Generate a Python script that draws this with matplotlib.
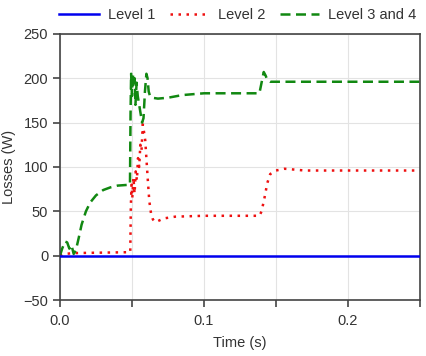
import matplotlib
matplotlib.use("Agg")
import matplotlib.pyplot as plt
import numpy as np

plt.rcParams['font.family'] = ['Liberation Sans', 'DejaVu Sans']

# Level 1 (blue)
t1 = [0.0, 0.25]
v1 = [0.0, 0.0]

# Level 2 (red dotted)
t2 = [0.0, 0.003, 0.010, 0.030, 0.0488, 0.0492, 0.0497, 0.0502, 0.0510, 0.0518, 0.0526,
      0.0534, 0.0542, 0.0550, 0.0558, 0.0566, 0.0575, 0.0583, 0.0592, 0.0600, 0.0610,
      0.0620, 0.0632, 0.0645, 0.0660, 0.0680, 0.0720, 0.0800, 0.1000, 0.1200, 0.1385,
      0.1400, 0.1420, 0.1440, 0.1460, 0.1500, 0.1560, 0.1700, 0.2000, 0.2500]
v2 = [0.0, 2.0, 3.0, 3.5, 4.0, 55.0, 80.0, 65.0, 88.0, 70.0, 95.0,
      85.0, 110.0, 100.0, 125.0, 118.0, 148.0, 140.0, 130.0, 110.0, 85.0,
      62.0, 48.0, 41.0, 38.0, 39.0, 42.0, 44.0, 45.0, 45.0, 45.0,
      50.0, 65.0, 82.0, 92.0, 96.0, 98.0, 96.0, 96.0, 96.0]

# Level 3 and 4 (green dashed)
t3 = [0.0, 0.0015, 0.0035, 0.0050, 0.0065, 0.0080, 0.0095, 0.0110, 0.0130, 0.0150,
      0.0180, 0.0210, 0.0250, 0.0300, 0.0350, 0.0400, 0.0486, 0.0490, 0.0494, 0.0500,
      0.0506, 0.0512, 0.0518, 0.0524, 0.0532, 0.0540, 0.0550, 0.0560, 0.0570, 0.0580,
      0.0590, 0.0600, 0.0608, 0.0616, 0.0625, 0.0640, 0.0680, 0.0750, 0.0850, 0.1000,
      0.1200, 0.1385, 0.1400, 0.1415, 0.1428, 0.1440, 0.1460, 0.1500, 0.2000, 0.2500]
v3 = [0.0, 8.0, 16.0, 15.0, 8.0, 12.0, 2.0, 6.0, 20.0, 35.0,
      50.0, 60.0, 68.0, 74.0, 77.0, 79.0, 80.0, 160.0, 205.0, 180.0,
      205.0, 190.0, 200.0, 170.0, 195.0, 180.0, 170.0, 160.0, 150.0, 155.0,
      185.0, 205.0, 200.0, 185.0, 180.0, 178.0, 177.0, 178.0, 181.0, 183.0,
      183.0, 183.0, 195.0, 207.0, 203.0, 198.0, 196.0, 196.0, 196.0, 196.0]

xticks = [0.0, 0.05, 0.1, 0.15, 0.2, 0.25]
xticklabels = ['0.0', '', '0.1', '', '0.2', '']
yticks = [-50, 0, 50, 100, 150, 200, 250]

fig = plt.figure(figsize=(4.27, 3.56), dpi=100)
ax = fig.add_axes([0.1405, 0.157, 0.843, 0.748])

txt = '#333333'
fs = 10.5
ax.plot(t1, v1, color='#0000ee', lw=1.8, label='Level 1', zorder=3)
ax.plot(t2, v2, color='#ee1111', lw=1.8, linestyle=(0, (1, 2.2)), label='Level 2', zorder=2)
ax.plot(t3, v3, color='#118811', lw=1.8, linestyle=(0, (4, 2.2)), label='Level 3 and 4', zorder=2)

ax.set_xlim(0, 0.25)
ax.set_ylim(-50, 250)
ax.set_xticks(xticks)
ax.set_xticklabels(xticklabels)
ax.set_yticks(yticks)
ax.grid(True, color='#e3e3e3', lw=0.8)
ax.set_axisbelow(True)
for s in ax.spines.values():
    s.set_color('#444444')
    s.set_linewidth(1.2)
ax.tick_params(colors='#444444', labelcolor=txt, labelsize=fs, length=5, width=1.2)
ax.tick_params(axis='x', pad=5)
ax.set_xlabel('Time (s)', fontsize=fs, color=txt, labelpad=6)
ax.set_ylabel('Losses (W)', fontsize=fs, color=txt, labelpad=5)

leg = fig.legend(loc='upper right', bbox_to_anchor=(1.005, 1.015), ncol=3, frameon=False,
                 fontsize=fs, handlelength=2.7, columnspacing=1.0, handletextpad=0.6)
for t in leg.get_texts():
    t.set_color(txt)

fig.savefig('out.png', dpi=100)
